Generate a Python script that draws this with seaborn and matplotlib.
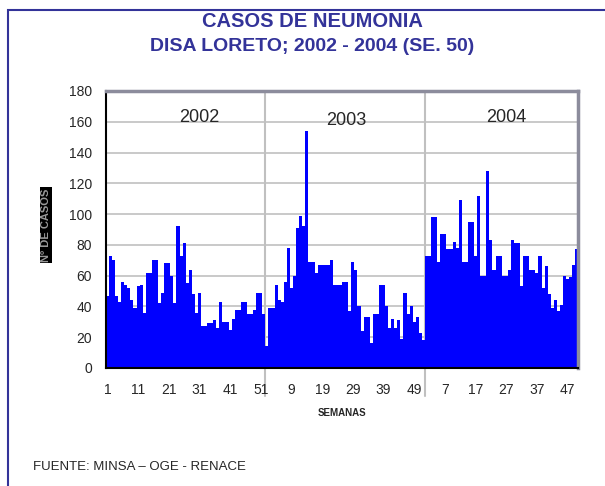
import numpy as np
import pandas as pd
import matplotlib
matplotlib.use("Agg")
import matplotlib.pyplot as plt
from matplotlib.patches import Rectangle
import seaborn as sns

# casos semanales de neumonia
casos_2002 = [47, 73, 70, 47, 43, 56, 54, 52, 44, 39, 53, 54, 36, 62, 62, 70, 70, 42,
              49, 68, 68, 60, 42, 92, 73, 81, 55, 64, 48, 36, 49, 27, 27, 29, 29, 31,
              26, 43, 30, 30, 25, 32, 38, 38, 43, 43, 35, 35, 38, 49, 49, 35]
casos_2003 = [14, 39, 39, 54, 44, 43, 56, 78, 52, 60, 91, 99, 92, 154, 69, 69, 62, 67,
              67, 67, 67, 70, 54, 54, 54, 56, 56, 37, 69, 64, 40, 24, 33, 33, 16, 35,
              35, 54, 54, 40, 26, 32, 26, 31, 19, 49, 35, 40, 30, 33, 23, 18]
casos_2004 = [73, 73, 98, 98, 69, 87, 87, 77, 77, 82, 78, 109, 69, 69, 95, 95, 73, 112,
              60, 60, 128, 83, 64, 73, 73, 60, 60, 64, 83, 81, 81, 53, 73, 73, 64, 64,
              62, 73, 52, 66, 48, 39, 44, 37, 41, 60, 58, 59, 67, 77]
anios = ["2002", "2003", "2004"]

semanas = (list(range(1, len(casos_2002) + 1)) + list(range(1, len(casos_2003) + 1))
           + list(range(1, len(casos_2004) + 1)))
casos = casos_2002 + casos_2003 + casos_2004
df = pd.DataFrame({"pos": range(len(casos)), "semana": semanas, "casos": casos})

sns.set_style("white")
plt.rcParams["font.family"] = ["Liberation Sans", "DejaVu Sans"]

fig = plt.figure(figsize=(6.05, 4.86), dpi=100)
ax = fig.add_axes([0.175, 0.2428, 0.781, 0.570])

sns.barplot(data=df, x="pos", y="casos", color="#0000ff", saturation=1,
            width=1.0, linewidth=0, ax=ax)

ax.set_xlim(-0.5, len(casos) - 0.5)
ax.set_ylim(0, 180)
ax.set_yticks(range(0, 181, 20))
ax.yaxis.grid(True, color="#c0c0c0", linewidth=1.2)
ax.set_axisbelow(True)

tick_pos = df["pos"][::10].tolist()
ax.set_xticks(tick_pos)
ax.set_xticklabels([str(s) for s in df["semana"][::10]], fontsize=10)
ax.set_xticks(df["pos"].tolist(), minor=True)
ax.tick_params(axis="x", which="both", length=3, width=1.2, color="black", direction="out", pad=8)
ax.tick_params(axis="y", length=4, width=1, color="black", labelsize=10, pad=6)
ax.set_xlabel("SEMANAS", fontsize=7, fontweight="bold", labelpad=8)
ax.set_ylabel("")

for s in ["left", "bottom"]:
    ax.spines[s].set_color("black")
    ax.spines[s].set_linewidth(1.5)
for s in ["top", "right"]:
    ax.spines[s].set_color("#8c8c9c")
    ax.spines[s].set_linewidth(2.5)

# separadores de anio
limites = [len(casos_2002) - 0.5, len(casos_2002) + len(casos_2003) - 0.5]
for xb in limites:
    ax.axvline(xb, ymin=-0.1, ymax=1, color="#c0c0c0", linewidth=1.5, clip_on=False, zorder=0.5)

# etiquetas de anio
centros = [30, 78, 130]
for xc, a, yy in zip(centros, anios, [163, 161, 163]):
    ax.text(xc, yy, a, ha="center", va="center", fontsize=13)

# titulo
fig.text(0.516, 0.955, "CASOS DE NEUMONIA", ha="center", va="center",
         fontsize=14.5, fontweight="bold", color="#333399")
fig.text(0.516, 0.905, "DISA LORETO; 2002 - 2004 (SE. 50)", ha="center", va="center",
         fontsize=14, fontweight="bold", color="#333399")

# eje y con fuente dañada en el original
fig.text(0.076, 0.537, "Nº DE CASOS", rotation=90, ha="center", va="center",
         fontsize=8, color="#9a9a9a", fontweight="bold",
         bbox=dict(facecolor="black", edgecolor="none", pad=1.0))

fig.text(0.055, 0.04, "FUENTE: MINSA – OGE - RENACE", ha="left", va="center", fontsize=9.5)

# marco del grafico
fig.patches.append(Rectangle((8 / 605, -0.1), 1.2, 1.1 - 10 / 486,
                             transform=fig.transFigure, fill=False,
                             edgecolor="#333399", linewidth=1.5))

fig.savefig("out.png", dpi=100)
